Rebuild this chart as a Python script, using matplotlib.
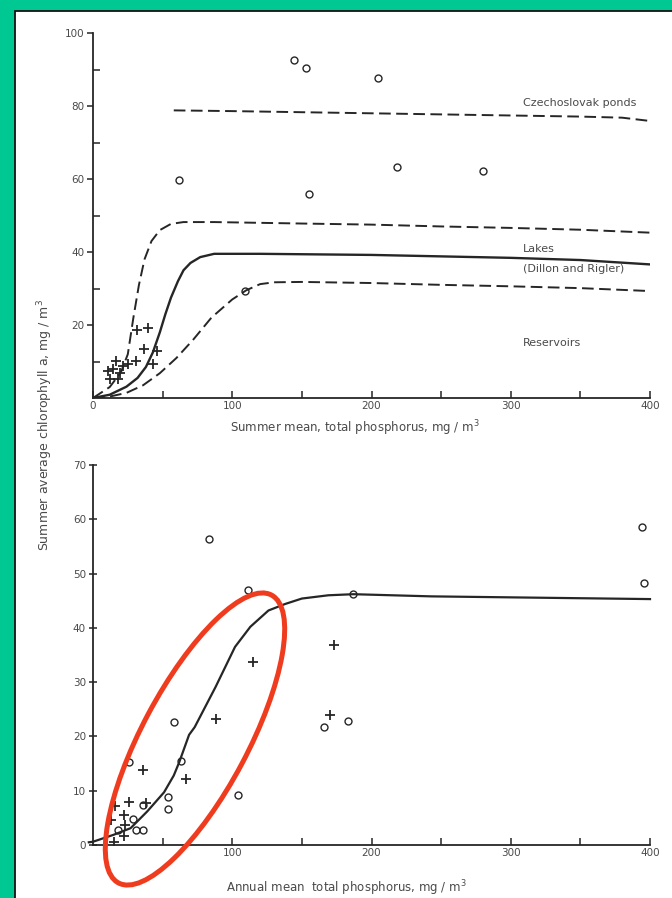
import matplotlib
matplotlib.use('Agg')
import matplotlib.pyplot as plt
from matplotlib.patches import Ellipse, Rectangle

# ---- top panel data (summer mean TP vs chlorophyll) ----
top_circ_x = [144, 153, 205, 62, 155, 218, 280, 109]
top_circ_y = [92.7, 90.5, 87.8, 59.8, 56, 63.2, 62.2, 29.3]
top_plus_x = [31.8, 39.5, 36.4, 46.2, 43, 30.6, 16.8, 10.8, 14.3, 12, 19.2, 21.6, 25.2, 18]
top_plus_y = [18.7, 19.2, 13.4, 13, 9.4, 10.2, 10.2, 7.4, 8, 5.1, 6.9, 8.7, 9.2, 5.1]

ponds_x = [58, 100, 150, 200, 250, 300, 350, 380, 400]
ponds_y = [78.8, 78.6, 78.3, 78, 77.7, 77.4, 77.1, 76.8, 75.9]
upper_x = [0, 12, 20, 25, 29, 33, 37, 42, 48, 56, 65, 87, 150, 200, 250, 300, 350, 400]
upper_y = [0, 3, 7, 12, 22, 31, 38, 43, 46, 47.7, 48.2, 48.2, 47.8, 47.5, 47, 46.6, 46.1, 45.3]
lakes_x = [0, 12, 24, 32, 38, 43, 48, 52, 56, 61, 65, 70, 77, 87, 120, 200, 250, 300, 350, 400]
lakes_y = [0, 0.9, 3.1, 5.5, 8.5, 12.5, 18, 23, 27.5, 32, 35, 37, 38.6, 39.5, 39.5, 39.2, 38.8, 38.4, 37.8, 36.6]
resv_x = [0, 12, 24, 36, 48, 60, 72, 85, 100, 110, 120, 130, 150, 200, 250, 300, 350, 400]
resv_y = [0, 0.4, 1.4, 3.5, 6.8, 11, 16, 22, 27, 29.5, 31.2, 31.7, 31.8, 31.5, 31, 30.6, 30.1, 29.3]

# ---- bottom panel data (annual mean TP vs chlorophyll) ----
bot_circ_x = [83, 111, 187, 394, 396, 58, 166, 183, 63, 26, 104, 54, 54, 36, 29, 18, 31, 36]
bot_circ_y = [56.4, 47, 46.2, 58.5, 48.3, 22.7, 21.7, 22.8, 15.4, 15.3, 9.2, 8.8, 6.7, 7.3, 4.8, 2.8, 2.8, 2.8]
bot_plus_x = [115, 88, 173, 170, 67, 36, 26, 38, 16, 22, 13, 23, 22, 15]
bot_plus_y = [33.7, 23.2, 36.8, 23.9, 12.2, 13.8, 7.9, 7.8, 7.2, 5.6, 4.6, 3.7, 1.6, 0.6]
curve_x = [-3, 0, 15, 27, 39, 51, 58, 62, 69, 73, 88, 102, 113, 126, 138, 150, 169, 187, 243, 400]
curve_y = [0.5, 0.6, 1.9, 3.1, 6.2, 9.7, 12.8, 15.3, 20.3, 21.7, 29.1, 36.5, 40.2, 43.2, 44.4, 45.4, 46, 46.2, 45.8, 45.3]

ink = '#262626'
txt = '#4a4a4a'
dash = (0, (6, 2.8))

fig = plt.figure(figsize=(6.72, 8.98), dpi=100, facecolor='#00c893')
fig.add_artist(Rectangle((14.5 / 672, -0.01), 1, (898 - 11) / 898 + 0.01,
                         transform=fig.transFigure, facecolor='white',
                         edgecolor='#111111', lw=1.3, zorder=0))

ax1 = fig.add_axes([93 / 672, 1 - 398 / 898, 557 / 672, 365 / 898])
ax2 = fig.add_axes([93 / 672, 1 - 845 / 898, 557 / 672, 380 / 898])

for ax in (ax1, ax2):
    ax.set_facecolor('none')
    for s in ('top', 'right'):
        ax.spines[s].set_visible(False)
    for s in ('left', 'bottom'):
        ax.spines[s].set_color(ink)
        ax.spines[s].set_linewidth(1.3)
    ax.tick_params(colors=ink, labelcolor=txt, labelsize=7.5, width=1.1, pad=2)
    ax.set_xlim(0, 400)

# top panel
ax1.set_ylim(0, 100)
ax1.plot(ponds_x, ponds_y, color=ink, lw=1.4, ls=dash)
ax1.plot(upper_x, upper_y, color=ink, lw=1.4, ls=dash)
ax1.plot(lakes_x, lakes_y, color=ink, lw=1.7)
ax1.plot(resv_x, resv_y, color=ink, lw=1.4, ls=dash)
ax1.plot(top_circ_x, top_circ_y, 'o', ms=5, mfc='none', mec=ink, mew=1.0)
ax1.plot(top_plus_x, top_plus_y, '+', ms=7, color=ink, mew=1.3)
ax1.set_xticks(range(0, 401, 50))
ax1.set_xticklabels(['0', '', '100', '', '200', '', '300', '', '400'])
ax1.tick_params(axis='x', direction='in', length=5)
ax1.set_yticks([20, 40, 60, 80, 100])
ax1.set_yticks([10, 30, 50, 70, 90], minor=True)
ax1.tick_params(axis='y', which='major', direction='out', length=4)
ax1.tick_params(axis='y', which='minor', direction='in', length=5, width=1.1, color=ink)
ax1.text(309, 80.8, 'Czechoslovak ponds', fontsize=8, color=txt, va='center')
ax1.text(309, 40.8, 'Lakes', fontsize=8, color=txt, va='center')
ax1.text(309, 35.3, '(Dillon and Rigler)', fontsize=8, color=txt, va='center')
ax1.text(309, 15, 'Reservoirs', fontsize=8, color=txt, va='center')
ax1.set_xlabel('Summer mean, total phosphorus, mg / m$^3$', fontsize=8.5, color=txt)
ax1.xaxis.set_label_coords(0.47, -0.055)

# bottom panel
ax2.set_ylim(0, 70)
ax2.plot(curve_x, curve_y, color=ink, lw=1.6, clip_on=False)
ax2.plot(bot_circ_x, bot_circ_y, 'o', ms=5, mfc='none', mec=ink, mew=1.0)
ax2.plot(bot_plus_x, bot_plus_y, '+', ms=7, color=ink, mew=1.3)
ax2.set_xticks(range(50, 401, 50))
ax2.set_xticklabels(['', '100', '', '200', '', '300', '', '400'])
ax2.tick_params(axis='x', direction='in', length=5)
ax2.set_yticks(range(0, 71, 10))
ax2.tick_params(axis='y', direction='inout', length=6)
ax2.set_xlabel('Annual mean  total phosphorus, mg / m$^3$', fontsize=8.5, color=txt)
ax2.xaxis.set_label_coords(0.455, -0.088)

fig.text(45 / 672, 1 - 425 / 898, 'Summer average chlorophyll a, mg / m$^3$',
         rotation=90, ha='center', va='center', fontsize=9, color=txt)

# red highlight ellipse (in inches from figure lower-left)
fig.add_artist(Ellipse((1.95, 1.59), 3.26, 1.06, angle=62,
                       transform=fig.dpi_scale_trans, fill=False,
                       edgecolor='#f03c1e', lw=3.6, zorder=5))

fig.savefig('out.png', dpi=100, facecolor=fig.get_facecolor())
